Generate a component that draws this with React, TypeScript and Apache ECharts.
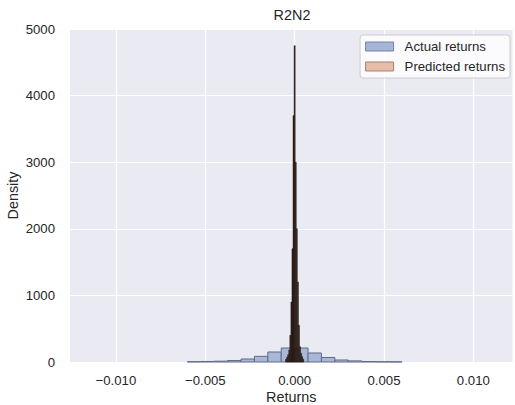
import React, { useEffect, useRef } from 'react';
import * as echarts from 'echarts';

// ---- data ----
const xTickValues = [-0.01, -0.005, 0, 0.005, 0.01];
const yTickValues = [0, 1000, 2000, 3000, 4000, 5000];

const actualBinEdges = [
  -0.006, -0.00525, -0.0045, -0.00375, -0.003, -0.00225, -0.0015, -0.00075, 0,
  0.00075, 0.0015, 0.00225, 0.003, 0.00375, 0.0045, 0.00525, 0.006,
];
const actualDensity = [5, 8, 12, 22, 45, 85, 150, 210, 210, 135, 68, 30, 17, 7, 4, 3];

const predictedBinEdges = [
  -0.00051, -0.00045, -0.00039, -0.00033, -0.00027, -0.00021, -0.00015, -0.00009, -0.00003,
  0.00003, 0.00009, 0.00015, 0.00021, 0.00027, 0.00033, 0.00039, 0.00045, 0.00051,
];
const predictedDensity = [40, 70, 110, 180, 400, 900, 1700, 3700, 4750, 3000, 2000, 1200, 550, 230, 130, 80, 40];

const seriesNames = ['Actual returns', 'Predicted returns'];
const titleText = 'R2N2';
const xLabel = 'Returns';
const yLabel = 'Density';

const FONT = "'Liberation Sans', Arial, sans-serif";
const TEXT = '#262626';

function binsToData(edges: number[], dens: number[]) {
  return dens.map((d, i) => [edges[i], edges[i + 1], d]);
}

function makeRender(fill: string, stroke: string, lw: number) {
  return (params: any, api: any) => {
    const p0 = api.coord([api.value(0), api.value(2)]);
    const p1 = api.coord([api.value(1), 0]);
    return {
      type: 'rect',
      shape: { x: p0[0], y: p0[1], width: p1[0] - p0[0], height: p1[1] - p0[1] },
      style: { fill, stroke, lineWidth: lw },
    };
  };
}

export default function App() {
  const ref = useRef<HTMLDivElement>(null);
  useEffect(() => {
    if (!ref.current) return;
    const chart = echarts.init(ref.current, undefined, { renderer: 'svg' });
    const fmtX = (v: number) => {
      const s = Math.abs(v).toFixed(3);
      return v < -1e-12 ? '\u2212' + s : s;
    };
    chart.setOption({
      animation: false,
      backgroundColor: '#ffffff',
      textStyle: { fontFamily: FONT },
      graphic: [
        {
          type: 'text',
          x: 292,
          y: 8,
          style: {
            text: titleText,
            fill: TEXT,
            font: `14.4px ${FONT}`,
            textAlign: 'center',
            textVerticalAlign: 'top',
          },
        },
      ],
      grid: {
        left: 70,
        right: 2.5,
        top: 29,
        bottom: 43,
        show: true,
        containLabel: false,
        outerBoundsMode: 'none',
        backgroundColor: '#eaeaf2',
        borderWidth: 0,
      },
      legend: {
        orient: 'vertical',
        right: 5,
        top: 35,
        padding: [3.5, 5, 3.5, 5],
        itemGap: 4,
        itemWidth: 28,
        itemHeight: 9,
        backgroundColor: 'rgba(255,255,255,0.8)',
        borderColor: '#cccccc',
        borderWidth: 1,
        borderRadius: 3,
        icon: 'rect',
        textStyle: {
          color: TEXT,
          fontSize: 13.2,
          fontFamily: FONT,
          lineHeight: 16,
          padding: [0, 0, 0, 6],
        },
        data: [
          { name: seriesNames[0], itemStyle: { color: '#a5b5d7', borderColor: '#7283a8', borderWidth: 1 } },
          { name: seriesNames[1], itemStyle: { color: '#e8bda8', borderColor: '#a78170', borderWidth: 1 } },
        ],
      },
      xAxis: {
        type: 'value',
        min: -0.01257,
        max: 0.01219,
        name: xLabel,
        nameLocation: 'middle',
        nameGap: 27,
        nameMoveOverlap: false,
        nameTextStyle: { color: TEXT, fontSize: 14.4, fontFamily: FONT, lineHeight: 16 },
        axisLine: { show: false },
        axisTick: { show: false, customValues: xTickValues },
        axisLabel: {
          customValues: xTickValues,
          formatter: fmtX,
          color: TEXT,
          fontSize: 13.2,
          fontFamily: FONT,
          margin: 12,
        },
        splitLine: { show: true, lineStyle: { color: '#ffffff', width: 1.2 } },
      },
      yAxis: {
        type: 'value',
        min: yTickValues[0],
        max: yTickValues[yTickValues.length - 1],
        interval: 1000,
        name: yLabel,
        nameLocation: 'middle',
        nameGap: 49,
        nameMoveOverlap: false,
        nameTextStyle: { color: TEXT, fontSize: 14.4, fontFamily: FONT, lineHeight: 16 },
        axisLine: { show: false },
        axisTick: { show: false },
        axisLabel: {
          color: TEXT,
          fontSize: 13.2,
          fontFamily: FONT,
          margin: 15,
          formatter: (v: number) => String(v),
        },
        splitLine: { show: true, lineStyle: { color: '#ffffff', width: 1.2 } },
      },
      series: [
        {
          name: seriesNames[0],
          type: 'custom',
          renderItem: makeRender('#a9b8d8', '#5f6b85', 1),
          encode: { x: [0, 1], y: 2 },
          itemStyle: { color: '#a5b5d7', borderColor: '#7283a8' },
          data: binsToData(actualBinEdges, actualDensity),
          z: 2,
        },
        {
          name: seriesNames[1],
          type: 'custom',
          renderItem: makeRender('#2f201a', '#261914', 0.5),
          encode: { x: [0, 1], y: 2 },
          itemStyle: { color: '#e8bda8', borderColor: '#a78170' },
          data: binsToData(predictedBinEdges, predictedDensity),
          z: 3,
        },
      ],
    });
    return () => chart.dispose();
  }, []);
  return (
    <div
      ref={ref}
      style={{ position: 'fixed', left: 0, top: 0, width: 515, height: 405 }}
    />
  );
}
